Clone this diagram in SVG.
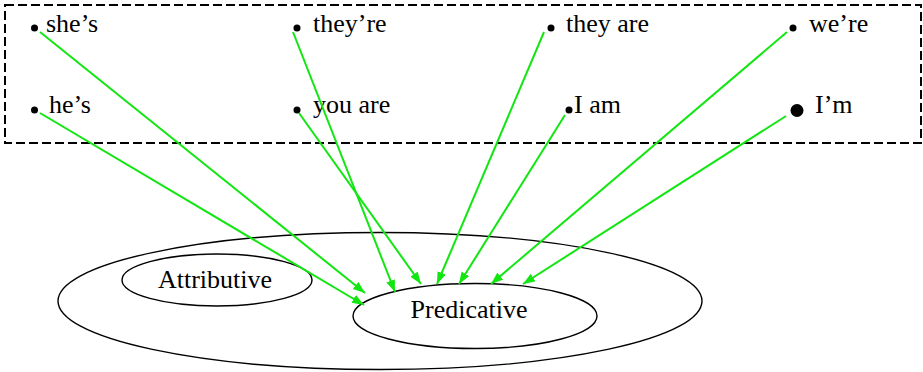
<svg xmlns="http://www.w3.org/2000/svg" width="923" height="372" viewBox="0 0 923 372">
<style>
text{font-family:"Liberation Serif","Times New Roman",serif;font-size:26px;fill:#000}
.shape{fill:none;stroke:#000;stroke-width:1.4}
.dot{fill:#000}
.conn{stroke:#11e611;stroke-width:2;fill:none;marker-end:url(#arr)}
</style>
<defs>
<marker id="arr" markerUnits="userSpaceOnUse" markerWidth="13" markerHeight="10" refX="12" refY="4.5" orient="auto">
<path d="M0,0 L12,4.5 L0,9 z" fill="#11e611"/>
</marker>
</defs>
<rect x="5" y="5" width="916" height="138" fill="none" stroke="#000" stroke-width="2" stroke-dasharray="9 4"/>
<g id="outer"><ellipse class="shape" cx="380" cy="301" rx="322" ry="68.5"/></g>
<g id="attributive"><ellipse class="shape" cx="217" cy="280" rx="95" ry="26"/><text x="215" y="288" text-anchor="middle">Attributive</text></g>
<g id="predicative"><ellipse class="shape" cx="475" cy="316" rx="122" ry="32.5"/><text x="469" y="318" text-anchor="middle">Predicative</text></g>
<g id="shes"><circle class="dot" cx="34.5" cy="28" r="3.5"/><text x="46" y="32">she’s</text></g>
<g id="hes"><circle class="dot" cx="34.5" cy="110" r="3.5"/><text x="49" y="113">he’s</text></g>
<g id="theyre"><circle class="dot" cx="297" cy="28" r="3.5"/><text x="313" y="32">they’re</text></g>
<g id="youare"><circle class="dot" cx="297" cy="110" r="3.5"/><text x="313" y="113">you are</text></g>
<g id="theyare"><circle class="dot" cx="551" cy="28" r="3.5"/><text x="566" y="32">they are</text></g>
<g id="iam"><circle class="dot" cx="569" cy="110" r="3.5"/><text x="574" y="113">I am</text></g>
<g id="were"><circle class="dot" cx="793" cy="28" r="3.5"/><text x="809" y="32">we’re</text></g>
<g id="im"><circle class="dot" cx="797" cy="110.5" r="6.5"/><text x="815" y="113">I’m</text></g>
<g id="connectors">
<line class="conn" x1="40" y1="32" x2="365" y2="293"/>
<line class="conn" x1="40" y1="113" x2="364" y2="305"/>
<line class="conn" x1="293" y1="32" x2="395" y2="292"/>
<line class="conn" x1="299" y1="113" x2="421" y2="284"/>
<line class="conn" x1="544" y1="32" x2="437" y2="284"/>
<line class="conn" x1="565" y1="115" x2="459" y2="284"/>
<line class="conn" x1="787" y1="32" x2="491" y2="284"/>
<line class="conn" x1="786" y1="116" x2="523" y2="284"/>
</g>
</svg>
